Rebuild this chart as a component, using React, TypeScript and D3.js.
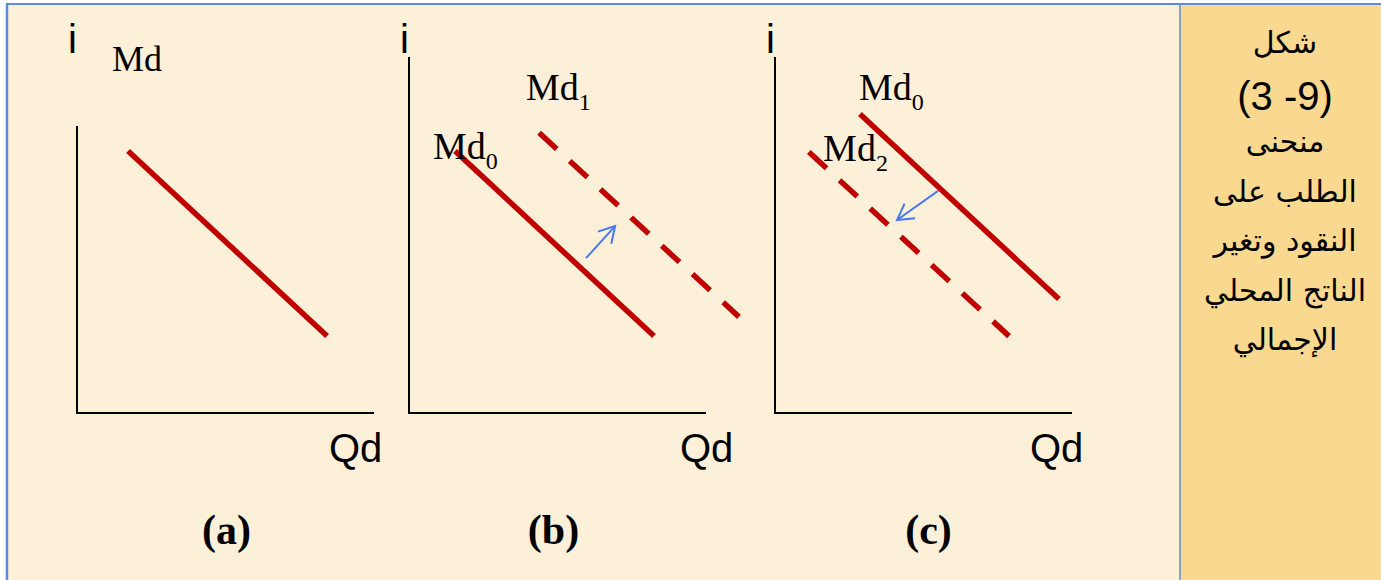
import React from "react";
import * as d3 from "d3";

// ---- data (in each panel's own axis units: Qd on x, i on y) ----
const panelNames = ["(a)", "(b)", "(c)"];
const axisTopI = [8.06, 10, 10];
const axisRightQ = [10, 10, 10];

const curvePanel = [0, 1, 1, 2, 2];
const curveName = ["Md", "Md", "Md", "Md", "Md"];
const curveSub = ["", "0", "1", "0", "2"];
const curveDashed = [false, false, true, false, true];
const curveQStart = [1.72, 1.55, 4.38, 2.86, 1.14];
const curveIStart = [7.36, 7.36, 7.87, 8.4, 7.33];
const curveQEnd = [8.42, 8.25, 11.11, 9.56, 7.88];
const curveIEnd = [2.16, 2.16, 2.7, 3.2, 2.16];
const labelQ = [1.18, 0.81, 3.94, 2.83, 1.62];
const labelI = [9.61, 7.13, 8.79, 8.79, 7.08];

const shiftPanel = [1, 2];
const shiftQFrom = [5.96, 5.49];
const shiftIFrom = [4.35, 6.24];
const shiftQTo = [6.94, 4.11];
const shiftITo = [5.25, 5.42];

// caption; the figure number is given in its on-screen (left-to-right) reading
const captionLines = [
  "شكل",
  "(3 -9)",
  "منحنى",
  "الطلب على",
  "النقود وتغير",
  "الناتج المحلي",
  "الإجمالي",
];

// ---- layout ----
const W = 1381;
const H = 580;
const originX = [77, 409, 775];
const originY = 413;
const axisLen = 297;
const qdOffset = [-45, -26, -42];
const nameOffset = [1, -4, 5];
const divX = 1180;
const RED = "#C00000";
const BLUE = "#4A78F0";
const CREAM = "#FDF0D9";
const GOLD = "#F9D98F";
const BORDER = "#5B8ED7";
const CAP_X = 1285;
// Arial advance widths (em) for the figure-number glyphs
const ADV: Record<string, number> = {
  "(": 0.333,
  ")": 0.333,
  " ": 0.278,
  "-": 0.333,
};
const advOf = (c: string) => (c in ADV ? ADV[c] : 0.556);

function GlyphRow({ text, cx, y, size }: { text: string; cx: number; y: number; size: number }) {
  const chars = Array.from(text);
  const widths = chars.map((c) => advOf(c) * size);
  const total = d3.sum(widths);
  const starts = d3.cumsum([0, ...widths]).map((v) => cx - total / 2 + v);
  return (
    <g>
      {chars.map((c, i) =>
        c === " " ? null : (
          <text
            key={i}
            x={starts[i]}
            y={y}
            direction="ltr"
            fontFamily="Liberation Sans, Arial, sans-serif"
            fontSize={size}
            fill="#000"
          >
            {c}
          </text>
        )
      )}
    </g>
  );
}

export default function App() {
  const yScale = d3.scaleLinear().domain([0, 10]).range([originY, 57]);
  const xScales = originX.map((ox) =>
    d3.scaleLinear().domain([0, 10]).range([ox, ox + axisLen])
  );
  const line = d3.line<[number, number]>();

  return (
    <svg
      width={W}
      height={H}
      style={{ position: "absolute", left: 0, top: 0 }}
      xmlns="http://www.w3.org/2000/svg"
    >
      <rect x={0} y={0} width={W} height={H} fill="#ffffff" />
      <rect x={7} y={4} width={divX - 7} height={H - 4} fill={CREAM} />
      <rect x={divX} y={4} width={W - divX} height={H - 4} fill={GOLD} />
      <line x1={6} y1={4} x2={W} y2={4} stroke={BORDER} strokeWidth={2} />
      <line x1={7} y1={4} x2={7} y2={H} stroke={BORDER} strokeWidth={2.5} />
      <line x1={divX} y1={4} x2={divX} y2={H} stroke={BORDER} strokeWidth={1.5} />

      {panelNames.map((name, p) => {
        const xs = xScales[p];
        return (
          <g key={name}>
            <path
              d={
                line([
                  [xs(0), yScale(axisTopI[p])],
                  [xs(0), yScale(0)],
                  [xs(axisRightQ[p]), yScale(0)],
                ]) || ""
              }
              fill="none"
              stroke="#000"
              strokeWidth={2}
            />
            <text
              x={xs(0) - 9}
              y={53}
              fontFamily="Liberation Sans, Arial, sans-serif"
              fontSize={40}
              fill="#000"
            >
              i
            </text>
            <text
              x={xs(axisRightQ[p]) + qdOffset[p]}
              y={462}
              fontFamily="Liberation Sans, Arial, sans-serif"
              fontSize={40}
              fill="#000"
            >
              Qd
            </text>
            <text
              x={xs(5) + nameOffset[p]}
              y={544}
              textAnchor="middle"
              fontFamily="Liberation Serif, Times New Roman, serif"
              fontWeight="bold"
              fontSize={42}
              fill="#000"
            >
              {name}
            </text>
          </g>
        );
      })}

      {curvePanel.map((p, k) => {
        const xs = xScales[p];
        return (
          <g key={"c" + k}>
            <path
              d={
                line([
                  [xs(curveQStart[k]), yScale(curveIStart[k])],
                  [xs(curveQEnd[k]), yScale(curveIEnd[k])],
                ]) || ""
              }
              stroke={RED}
              strokeWidth={5.5}
              strokeDasharray={curveDashed[k] ? "24 17.7" : undefined}
              fill="none"
            />
            <text
              x={xs(labelQ[k])}
              y={yScale(labelI[k])}
              fontFamily="Liberation Serif, Times New Roman, serif"
              fontSize={curveSub[k] ? 38 : 36}
              fill="#000"
            >
              {curveName[k]}
              {curveSub[k] ? (
                <tspan fontSize={24} dy={10}>
                  {curveSub[k]}
                </tspan>
              ) : null}
            </text>
          </g>
        );
      })}

      {shiftPanel.map((p, k) => {
        const xs = xScales[p];
        const x0 = xs(shiftQFrom[k]);
        const y0 = yScale(shiftIFrom[k]);
        const x1 = xs(shiftQTo[k]);
        const y1 = yScale(shiftITo[k]);
        const ang = Math.atan2(y1 - y0, x1 - x0);
        const arm = 18;
        const spread = (30 * Math.PI) / 180;
        const a1: [number, number] = [
          x1 - arm * Math.cos(ang - spread),
          y1 - arm * Math.sin(ang - spread),
        ];
        const a2: [number, number] = [
          x1 - arm * Math.cos(ang + spread),
          y1 - arm * Math.sin(ang + spread),
        ];
        return (
          <g key={"s" + k} stroke={BLUE} strokeWidth={2} fill="none">
            <path d={line([[x0, y0], [x1, y1]]) || ""} />
            <path d={line([a1, [x1, y1], a2]) || ""} strokeLinejoin="miter" />
          </g>
        );
      })}

      {captionLines.map((t, k) =>
        k === 1 ? (
          <GlyphRow key={"t" + k} text={t} cx={CAP_X} y={110} size={40} />
        ) : (
          <text
            key={"t" + k}
            x={CAP_X}
            y={53 + k * 49.5}
            textAnchor="middle"
            direction="rtl"
            fontFamily="DejaVu Sans, Noto Sans, sans-serif"
            fontSize={30}
            fill="#000"
          >
            {t}
          </text>
        )
      )}
    </svg>
  );
}
